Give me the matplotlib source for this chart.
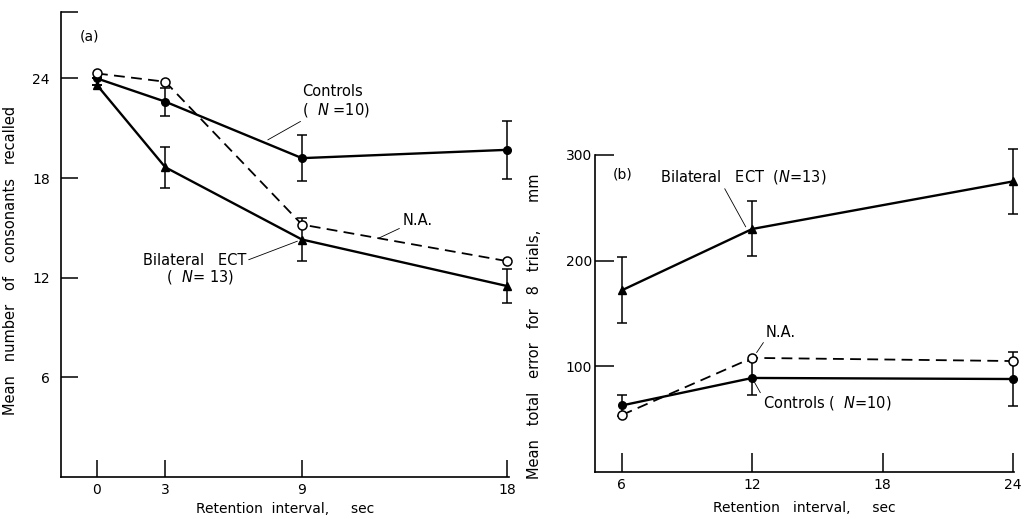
import matplotlib
matplotlib.use("Agg")
import matplotlib.pyplot as plt

plt.rcParams['font.family'] = ['DejaVu Sans']
plt.rcParams['font.size'] = 10

# ---- panel (a): consonants recalled vs retention interval ----
a_x = [0, 3, 9, 18]
a_controls = [24.0, 22.6, 19.2, 19.7]
a_controls_err = [0.0, 0.85, 1.4, 1.75]
a_na = [24.3, 23.8, 15.2, 13.0]
a_ect = [23.6, 18.65, 14.3, 11.5]
a_ect_err = [0.0, 1.25, 1.3, 1.05]
a_yticks = [6, 12, 18, 24]

# ---- panel (b): total error vs retention interval ----
b_x = [6, 12, 24]
b_ect = [172, 230, 275]
b_ect_err = [31, 26, 31]
b_na = [54, 108, 105]
b_controls = [63, 89, 88]
b_controls_err = [10, 16, 26]
b_xticks = [6, 12, 18, 24]
b_yticks = [100, 200, 300]

fig = plt.figure(figsize=(10.24, 5.19), dpi=100)
W, H = 1024.0, 519.0

def px_axes(l, t, r, b):
    return fig.add_axes([l / W, 1 - b / H, (r - l) / W, (b - t) / H])

def style(ax, ticklen):
    for s in ['top', 'right']:
        ax.spines[s].set_visible(False)
    for s in ['left', 'bottom']:
        ax.spines[s].set_linewidth(1.2)
    ax.tick_params(direction='in', length=ticklen, width=1.1, colors='black')

solid = dict(color='black', lw=1.7, clip_on=False)
dash = dict(color='black', lw=1.3, dashes=(6, 3.5), clip_on=False)
ebar = dict(fmt='none', ecolor='black', elinewidth=1.1, capsize=3.5, capthick=1.1)
lead = dict(arrowstyle='-', lw=0.6, color='black', shrinkA=0, shrinkB=0)

def noclip(eb):
    for art in eb.lines[1] + eb.lines[2]:
        art.set_clip_on(False)

# ---------------- panel a ----------------
ax = px_axes(61, 12, 509, 477)
style(ax, 12)
ax.set_xlim(-1.58, 18.09)
ax.set_ylim(0, 28)

noclip(ax.errorbar(a_x, a_controls, yerr=a_controls_err, **ebar))
noclip(ax.errorbar(a_x, a_ect, yerr=a_ect_err, **ebar))
ax.plot(a_x, a_controls, marker='o', ms=5.5, mfc='black', mec='black', **solid)
ax.plot(a_x, a_ect, marker='^', ms=6, mfc='black', mec='black', **solid)
ax.plot(a_x, a_na, marker='o', ms=6.5, mfc='white', mec='black', mew=1.1, **dash)

ax.set_xticks(a_x)
ax.set_xticklabels([str(v) for v in a_x])
ax.set_yticks(a_yticks + [28])
ax.set_yticklabels([str(v) for v in a_yticks] + [''])
ax.tick_params(axis='y', pad=8)
ax.tick_params(axis='x', pad=4)
ax.set_xlabel('Retention  interval,     sec', labelpad=4)
ax.set_ylabel('Mean   number   of   consonants   recalled', fontsize=10.5)
ax.yaxis.set_label_coords(-0.095, 0.465)

ax.text(-0.75, 26.3, '(a)', fontsize=10)
ax.annotate('Controls\n(  $\\it{N}$ =10)', xy=(7.5, 20.3), xytext=(9.0, 21.85),
            fontsize=10.5, linespacing=1.1, arrowprops=lead)
ax.annotate('N.A.', xy=(12.4, 14.4), xytext=(13.4, 15.2),
            fontsize=10.5, arrowprops=lead)
ax.annotate('Bilateral   ECT\n     (  $\\it{N}$= 13)', xy=(8.8, 14.2), xytext=(2.0, 11.8),
            fontsize=10.5, linespacing=1.0,
            arrowprops=dict(lead, relpos=(1.0, 0.75)))

# ---------------- panel b ----------------
bx = px_axes(595, 155, 1014, 472)
style(bx, 14)
bx.set_xlim(4.76, 24.05)
bx.set_ylim(0, 300)

noclip(bx.errorbar(b_x, b_ect, yerr=b_ect_err, **ebar))
noclip(bx.errorbar(b_x, b_controls, yerr=b_controls_err, **ebar))
bx.plot(b_x, b_ect, marker='^', ms=6, mfc='black', mec='black', **solid)
bx.plot(b_x, b_controls, marker='o', ms=5.5, mfc='black', mec='black', **solid)
bx.plot(b_x, b_na, marker='o', ms=6.5, mfc='white', mec='black', mew=1.1, **dash)

bx.set_xticks(b_xticks)
bx.set_xticklabels([str(v) for v in b_xticks])
bx.set_yticks(b_yticks)
bx.set_yticklabels([str(v) for v in b_yticks])
bx.tick_params(axis='y', pad=2)
bx.tick_params(axis='x', pad=4)
bx.set_xlabel('Retention   interval,     sec', labelpad=7)
bx.set_ylabel('Mean   total   error   for   8   trials,      mm', fontsize=10.5)
bx.yaxis.set_label_coords(-0.126, 0.46)

bx.text(5.6, 278, '(b)', fontsize=10)
bx.annotate('Bilateral   ECT  ($\\it{N}$=13)', xy=(11.7, 232), xytext=(7.75, 275),
            fontsize=10.5, arrowprops=dict(lead, relpos=(0.38, 0.0)))
bx.annotate('N.A.', xy=(12.2, 113), xytext=(12.6, 128),
            fontsize=10.5, arrowprops=dict(lead, relpos=(0.0, 0.0)))
bx.annotate('Controls (  $\\it{N}$=10)', xy=(12.1, 85), xytext=(12.5, 61),
            fontsize=10.5, arrowprops=dict(lead, relpos=(0.0, 0.8)))

fig.savefig('out.png', dpi=100)
